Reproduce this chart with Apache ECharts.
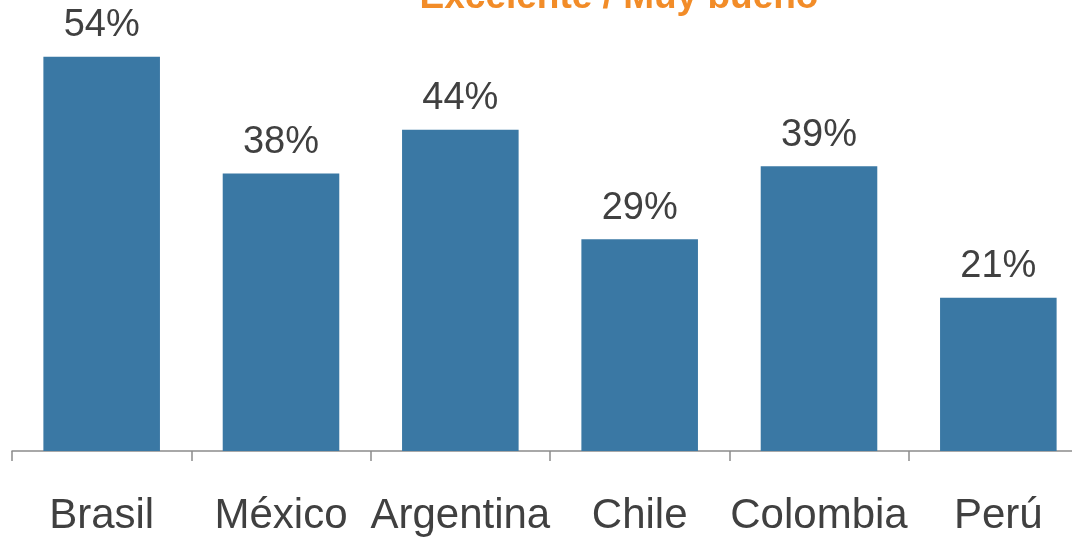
<!DOCTYPE html>
<html><head><meta charset="utf-8">
<script src="https://cdn.jsdelivr.net/npm/echarts@6/dist/echarts.min.js"></script>
<style>html,body{margin:0;padding:0;background:#fff;overflow:hidden;width:1072px;height:537px}#c{width:1090px;height:537px}</style>
</head><body><div id="c"></div>
<script>
const categories = ['Brasil', 'México', 'Argentina', 'Chile', 'Colombia', 'Perú'];
const values = [54, 38, 44, 29, 39, 21];
const title = 'Excelente / Muy bueno';

const chart = echarts.init(document.getElementById('c'));
chart.setOption({
  animation: false,
  title: {
    text: title, left: 614, top: -26, textAlign: 'center',
    textStyle: { color: '#F28C28', fontSize: 37, fontWeight: 'bold', fontFamily: 'Liberation Sans, Arial' }
  },
  grid: { left: 12, top: 13, width: 1076, height: 440, containLabel: false },
  xAxis: {
    type: 'category', data: categories,
    axisLine: { lineStyle: { color: '#8c8c8c', width: 1.5 } },
    axisTick: { show: true, length: 10, interval: 0, lineStyle: { color: '#8c8c8c', width: 1.5 } },
    axisLabel: { color: '#404040', fontSize: 42, margin: 44, interval: 0, fontFamily: 'Liberation Sans, Arial' }
  },
  yAxis: { type: 'value', min: 0, max: 60, show: false, splitLine: { show: false } },
  series: [{
    type: 'bar', data: values, barWidth: '65%',
    itemStyle: { color: '#3A78A4' },
    label: { show: true, position: 'top', distance: 12, formatter: '{c}%', color: '#404040', fontSize: 38, fontFamily: 'Liberation Sans, Arial' }
  }]
});
</script></body></html>
